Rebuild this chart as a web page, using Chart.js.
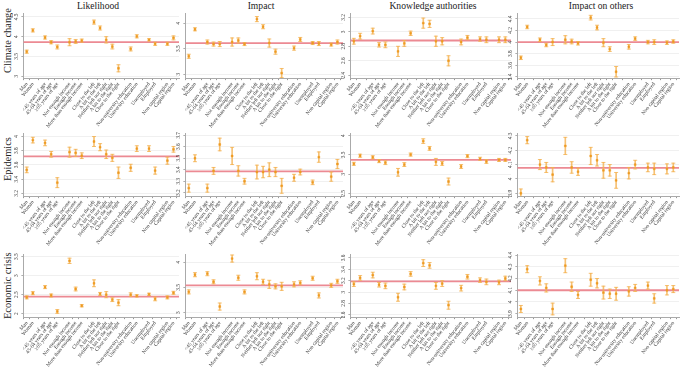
<!DOCTYPE html>
<html>
<head>
<meta charset="utf-8">
<script src="https://cdn.jsdelivr.net/npm/chart.js@4"></script>
<style>
  body { margin:0; background:#fff; width:685px; height:371px; position:relative; overflow:hidden; font-family:'Liberation Serif', serif; color:#222; }
  .col-title { position:absolute; top:0; width:200px; margin-left:-100px; font-size:9.6px; text-align:center; line-height:11px; }
  .row-title { position:absolute; left:1px; width:13px; height:100px; margin-top:-50px; font-size:10.4px; line-height:13px; white-space:nowrap; writing-mode:vertical-rl; transform:rotate(180deg); text-align:center; }
  canvas { position:absolute; }
</style>
</head>
<body>
<div id="wrap"></div>
<script>
// ---- categories (x positions leave a gap between groups) ----
const categories = ['Man','Woman','<45 years of age','45-64 years of age','≥65 years of age',
  'Not enough income','Enough income','More than enough income',
  'Close to the left','A bit to the left','Neither left nor right','A bit to the right','Close to the right',
  'Non-university education','University education','Unemployed','Employed','Non capital region','Capital region'];
const positions = [1,2,4,5,6,8,9,10,12,13,14,15,16,18,19,21,22,24,25];

const rowNames = ['Climate change','Epidemics','Economic crisis'];
const colNames = ['Likelihood','Impact','Knowledge authorities','Impact on others'];

// ---- Climate change ----
const climateLikelihood    = [3.62,4.16,3.98,3.86,3.74,3.86,3.88,3.90,4.37,4.22,3.92,3.75,3.20,3.69,4.01,3.92,3.82,3.82,3.97];
const climateLikelihoodErr = [0.04,0.04,0.04,0.04,0.05,0.09,0.05,0.04,0.05,0.05,0.08,0.06,0.09,0.05,0.04,0.03,0.04,0.04,0.05];
const climateImpact        = [3.35,3.88,3.63,3.59,3.59,3.63,3.66,3.59,4.08,3.93,3.61,3.44,3.02,3.51,3.68,3.61,3.60,3.58,3.63];
const climateImpactErr     = [0.04,0.03,0.04,0.04,0.05,0.08,0.05,0.03,0.05,0.04,0.08,0.05,0.09,0.04,0.04,0.03,0.04,0.03,0.04];
const climateKnowledge     = [2.87,2.94,3.01,2.82,2.82,2.73,2.84,2.98,3.12,3.11,2.87,2.87,2.60,2.86,2.92,2.90,2.89,2.89,2.89];
const climateKnowledgeErr  = [0.04,0.04,0.04,0.03,0.04,0.07,0.04,0.03,0.07,0.05,0.07,0.05,0.07,0.04,0.03,0.03,0.04,0.04,0.04];
const climateOthers        = [3.73,4.26,4.04,3.95,4.00,4.04,4.01,3.98,4.42,4.25,3.99,3.88,3.49,3.92,4.06,4.00,4.00,3.99,4.01];
const climateOthersErr     = [0.03,0.03,0.03,0.03,0.06,0.07,0.04,0.03,0.04,0.04,0.07,0.04,0.09,0.04,0.03,0.03,0.04,0.03,0.03];

// ---- Epidemics ----
const epiLikelihood    = [3.53,3.95,3.91,3.75,3.35,3.78,3.77,3.73,3.93,3.85,3.75,3.70,3.49,3.56,3.83,3.83,3.52,3.66,3.82];
const epiLikelihoodErr = [0.04,0.04,0.04,0.04,0.07,0.07,0.05,0.04,0.07,0.05,0.06,0.05,0.08,0.05,0.04,0.04,0.05,0.05,0.04];
const epiImpact        = [3.24,3.50,3.24,3.39,3.62,3.52,3.39,3.30,3.38,3.38,3.40,3.38,3.26,3.33,3.38,3.29,3.51,3.34,3.45];
const epiImpactErr     = [0.035,0.03,0.035,0.03,0.055,0.075,0.045,0.025,0.06,0.05,0.06,0.04,0.065,0.03,0.025,0.02,0.045,0.04,0.04];
const epiKnowledge     = [3.27,3.48,3.44,3.34,3.30,3.05,3.25,3.51,3.86,3.67,3.32,3.28,2.81,3.20,3.47,3.40,3.33,3.37,3.37];
const epiKnowledgeErr  = [0.04,0.04,0.04,0.04,0.05,0.10,0.05,0.04,0.06,0.05,0.09,0.05,0.09,0.05,0.04,0.04,0.05,0.04,0.04];
const epiOthers        = [3.90,4.27,4.10,4.08,4.03,4.23,4.08,4.05,4.16,4.13,4.06,4.06,3.99,4.04,4.10,4.08,4.07,4.07,4.08];
const epiOthersErr     = [0.03,0.025,0.035,0.035,0.05,0.06,0.04,0.025,0.06,0.04,0.055,0.04,0.055,0.04,0.03,0.03,0.04,0.035,0.03];

// ---- Economic crisis ----
const econLikelihood    = [2.43,2.54,2.70,2.48,2.06,3.39,2.65,2.21,2.80,2.52,2.50,2.37,2.29,2.50,2.47,2.51,2.39,2.43,2.55];
const econLikelihoodErr = [0.04,0.04,0.04,0.04,0.05,0.07,0.05,0.03,0.09,0.04,0.08,0.05,0.08,0.05,0.03,0.03,0.05,0.04,0.04];
const econImpact        = [3.41,3.75,3.77,3.61,3.12,4.07,3.69,3.41,3.72,3.61,3.56,3.52,3.52,3.56,3.59,3.68,3.34,3.54,3.62];
const econImpactErr     = [0.04,0.04,0.04,0.04,0.07,0.07,0.05,0.04,0.07,0.05,0.08,0.05,0.08,0.05,0.04,0.04,0.05,0.04,0.04];
const econKnowledge     = [3.14,3.25,3.30,3.13,3.11,2.91,3.09,3.32,3.51,3.47,3.11,3.15,2.77,3.07,3.27,3.21,3.18,3.17,3.24];
const econKnowledgeErr  = [0.04,0.04,0.05,0.04,0.05,0.07,0.05,0.04,0.06,0.05,0.06,0.05,0.07,0.05,0.04,0.04,0.05,0.04,0.04];
const econOthers        = [3.94,4.28,4.18,4.12,3.94,4.31,4.13,4.06,4.19,4.16,4.08,4.07,4.07,4.09,4.12,4.14,4.03,4.10,4.11];
const econOthersErr     = [0.03,0.03,0.035,0.035,0.05,0.06,0.04,0.03,0.055,0.04,0.055,0.04,0.055,0.04,0.03,0.03,0.04,0.04,0.03];

// overall means (red reference lines)
const refLines = [[3.86,3.61,2.88,4.00],[3.72,3.385,3.37,4.077],[2.45,3.54,3.19,4.10]];

// y tick labels and axis ranges per panel
const yTicks = [
  [[3,3.5,4,4.5],[3,3.5,4],[2.4,2.6,2.8,3,3.2],[3.4,3.6,3.8,4,4.2,4.4]],
  [[3.2,3.4,3.6,3.8,4],[3.2,3.3,3.4,3.5,3.6,3.7],[2.5,3,3.5,4],[3.9,4,4.1,4.2,4.3]],
  [[2,2.5,3,3.5],[3,3.5,4],[2.6,2.8,3,3.2,3.4,3.6],[3.9,4,4.1,4.2,4.3,4.4]]
];
const yRanges = [
  [[2.95,4.6],[2.92,4.2],[2.36,3.26],[3.38,4.5]],
  [[3.16,4.05],[3.17,3.72],[2.43,4.07],[3.88,4.32]],
  [[1.91,3.57],[2.91,4.16],[2.56,3.67],[3.87,4.41]]
];

const means = [
  [climateLikelihood, climateImpact, climateKnowledge, climateOthers],
  [epiLikelihood, epiImpact, epiKnowledge, epiOthers],
  [econLikelihood, econImpact, econKnowledge, econOthers]
];
const errs = [
  [climateLikelihoodErr, climateImpactErr, climateKnowledgeErr, climateOthersErr],
  [epiLikelihoodErr, epiImpactErr, epiKnowledgeErr, epiOthersErr],
  [econLikelihoodErr, econImpactErr, econKnowledgeErr, econOthersErr]
];

// ---- layout: wanted plot-area edges in page pixels ----
const plotLeft = [23.5, 185, 350, 517.5], plotRight = [179, 343, 511, 679];
const plotTop = [13, 132.5, 253.5], plotBottom = [78, 196, 317];
const titleX = [98, 261, 433, 601], rowTitleY = [41, 159, 286];
const markColor = '#ee9a22', errColor = 'rgba(244,178,80,0.8)', refColor = '#ec8a93';
const font = 'Liberation Serif';
const xMin = 0.45, xMax = 25.9;

const wrap = document.getElementById('wrap');
colNames.forEach((t, c) => {
  const d = document.createElement('div');
  d.className = 'col-title';
  d.style.left = titleX[c] + 'px';
  d.textContent = t;
  wrap.appendChild(d);
});
rowNames.forEach((t, r) => {
  const d = document.createElement('div');
  d.className = 'row-title';
  d.style.top = rowTitleY[r] + 'px';
  d.textContent = t;
  wrap.appendChild(d);
});

const labelAt = {};
positions.forEach((p, i) => labelAt[p] = categories[i]);

function panelConfig(r, c) {
  const m = means[r][c], e = errs[r][c];
  const bars = positions.map((p, i) => ({ x: p, y: [m[i] - e[i], m[i] + e[i]] }));
  const lows = positions.map((p, i) => ({ x: p, y: m[i] - e[i] }));
  const highs = positions.map((p, i) => ({ x: p, y: m[i] + e[i] }));
  const pts = positions.map((p, i) => ({ x: p, y: m[i] }));
  const ref = refLines[r][c];
  return {
    type: 'bar',
    data: {
      datasets: [
        { type:'line', data:[{x:xMin,y:ref},{x:xMax,y:ref}], borderColor:refColor, borderWidth:1.8, pointRadius:0, order:10 },
        { data:bars, backgroundColor:errColor, barThickness:1, order:5 },
        { type:'line', data:lows, showLine:false, pointStyle:'line', pointRadius:2, borderColor:errColor, pointBorderColor:errColor, pointBorderWidth:1, order:3 },
        { type:'line', data:highs, showLine:false, pointStyle:'line', pointRadius:2, borderColor:errColor, pointBorderColor:errColor, pointBorderWidth:1, order:3 },
        { type:'line', data:pts, showLine:false, pointStyle:'rect', pointRadius:1.3, pointBackgroundColor:markColor, pointBorderColor:markColor, pointBorderWidth:0.5, order:1 }
      ]
    },
    options: {
      responsive:false, animation:false, events:[],
      layout:{ padding:{ top:1, right:3, left:0, bottom:0 } },
      plugins:{ legend:{display:false}, tooltip:{enabled:false} },
      scales:{
        x:{
          type:'linear', min:xMin, max:xMax, offset:false,
          afterBuildTicks: ax => { ax.ticks = positions.map(v => ({ value:v })); },
          ticks:{ autoSkip:false, minRotation:52, maxRotation:52, padding:1, color:'#333',
                  font:{ family:font, size:5.3 }, callback: v => labelAt[v] || '' },
          grid:{ drawOnChartArea:false, drawTicks:true, tickLength:2, tickColor:'#999' },
          border:{ display:true, color:'#aaa', width:1 }
        },
        y:{
          min:yRanges[r][c][0], max:yRanges[r][c][1],
          afterBuildTicks: ax => { ax.ticks = yTicks[r][c].map(v => ({ value:v })); },
          ticks:{ minRotation:90, maxRotation:90, crossAlign:'center', padding:1, color:'#333',
                  font:{ family:font, size:5.3 }, callback: v => String(v) },
          grid:{ color:'#ececec', lineWidth:0.8, tickLength:2, tickColor:'#999' },
          border:{ display:true, color:'#aaa', width:1 }
        }
      }
    }
  };
}

// build once to learn the axis margins, then rebuild at the size that puts
// the plot area where the reference has it
function makePanel(r, c) {
  const cv = document.createElement('canvas');
  cv.width = 200; cv.height = 130;
  wrap.appendChild(cv);
  let ch = new Chart(cv, panelConfig(r, c));
  const a = ch.chartArea;
  const mL = a.left, mT = a.top, mR = 200 - a.right, mB = 130 - a.bottom;
  ch.destroy();
  const w = Math.round(mL + (plotRight[c] - plotLeft[c]) + mR);
  const h = Math.round(mT + (plotBottom[r] - plotTop[r]) + mB);
  cv.width = w; cv.height = h;
  cv.style.width = w + 'px'; cv.style.height = h + 'px';
  cv.style.left = (plotLeft[c] - mL) + 'px';
  cv.style.top = (plotTop[r] - mT) + 'px';
  new Chart(cv, panelConfig(r, c));
}

for (let r = 0; r < 3; r++) for (let c = 0; c < 4; c++) makePanel(r, c);
</script>
</body>
</html>
